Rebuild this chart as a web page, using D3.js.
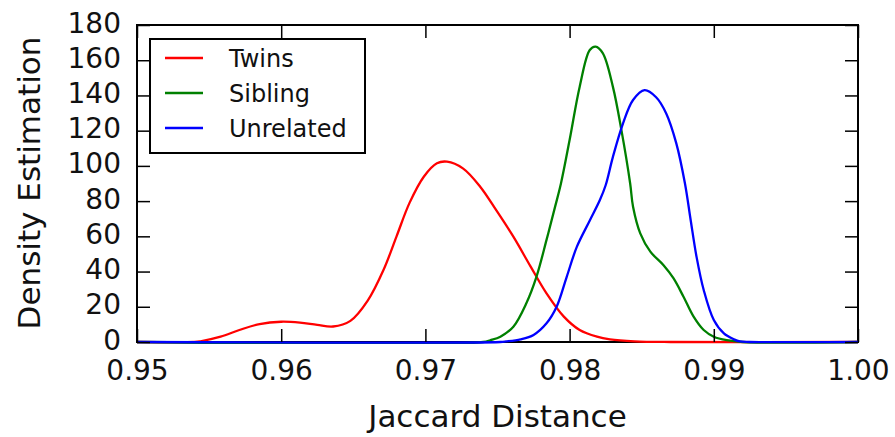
<!DOCTYPE html>
<html>
<head>
<meta charset="utf-8">
<script src="https://cdn.jsdelivr.net/npm/d3@7"></script>
<style>
  html, body { margin: 0; padding: 0; background: #fff; }
  svg { display: block; }
  text { font-family: "DejaVu Sans", sans-serif; fill: #111; }
</style>
</head>
<body>
<svg id="chart" width="895" height="437"></svg>
<script>
// ---- data ----
const seriesNames = ["Twins", "Sibling", "Unrelated"];
const seriesColors = ["#ff0000", "#008000", "#0000ff"];

const twinsX = [0.95, 0.9540, 0.9544, 0.9558, 0.9571, 0.9585, 0.9600, 0.9613, 0.9625, 0.9636, 0.9648, 0.9660, 0.9671, 0.9680, 0.9689, 0.9699, 0.9708, 0.9715, 0.9726, 0.9738, 0.9749, 0.9761, 0.9773, 0.9784, 0.9796, 0.9807, 0.9819, 0.9828, 0.9845, 0.9870, 1.00];
const twinsY = [0, 0, 0.4, 3, 6.8, 10.2, 11.5, 11, 9.7, 8.8, 12, 23.5, 41, 60, 79, 94, 101.5, 102.4, 98.6, 88.2, 75, 59.8, 42.8, 27.6, 14.4, 6.8, 3, 1.5, 0.4, 0, 0];

const siblingX = [0.95, 0.9740, 0.9745, 0.9752, 0.9761, 0.9770, 0.9777, 0.9784, 0.9790, 0.9794, 0.9800, 0.9807, 0.9814, 0.9818, 0.9823, 0.9830, 0.9836, 0.9842, 0.9844, 0.9849, 0.9856, 0.9865, 0.9872, 0.9879, 0.9886, 0.9893, 0.9900, 0.9909, 0.9920, 1.00];
const siblingY = [0, 0, 1.0, 3, 8.7, 22, 37, 58, 77, 90, 114.7, 145, 165.8, 167.7, 164, 145, 120, 90, 76.8, 61.7, 51.3, 43.7, 36.2, 25.7, 14.4, 6.8, 3, 1, 0, 0];

const unrelatedX = [0.95, 0.9752, 0.9756, 0.9766, 0.9775, 0.9784, 0.9791, 0.9798, 0.9805, 0.9814, 0.9821, 0.9825, 0.9830, 0.9837, 0.9844, 0.9852, 0.9860, 0.9867, 0.9874, 0.9880, 0.9884, 0.9888, 0.9893, 0.9900, 0.9907, 0.9914, 0.9918, 0.9925, 1.00];
const unrelatedY = [0, 0, 0.3, 1.5, 4, 10.6, 20, 37, 54, 69, 80.6, 89, 105, 124, 137.4, 143, 139, 129.8, 112.8, 90, 69, 48.5, 29.5, 12.5, 4.9, 1.5, 0.3, 0, 0];

const xTicks = [0.95, 0.96, 0.97, 0.98, 0.99, 1.00];
const yTicks = [0, 20, 40, 60, 80, 100, 120, 140, 160, 180];
const xLabel = "Jaccard Distance";
const yLabel = "Density Estimation";

// ---- layout ----
const mLeft = 137, mRight = 858, mTop = 25, mBottom = 342;
const svg = d3.select("#chart");

const x = d3.scaleLinear().domain([0.95, 1.00]).range([mLeft, mRight]);
const y = d3.scaleLinear().domain([0, 180]).range([mBottom, mTop]);

const series = [
  { name: seriesNames[0], color: seriesColors[0], xs: twinsX, ys: twinsY },
  { name: seriesNames[1], color: seriesColors[1], xs: siblingX, ys: siblingY },
  { name: seriesNames[2], color: seriesColors[2], xs: unrelatedX, ys: unrelatedY }
];

svg.append("defs").append("clipPath").attr("id", "clip")
  .append("rect").attr("x", mLeft).attr("y", mTop - 2).attr("width", mRight - mLeft).attr("height", mBottom - mTop + 4);

const line = d3.line()
  .x(d => x(d[0])).y(d => Math.min(y(d[1]), mBottom))
  .curve(d3.curveCatmullRom.alpha(0.5));

const gLines = svg.append("g").attr("clip-path", "url(#clip)");
series.forEach(s => {
  const pts = s.xs.map((v, i) => [v, s.ys[i]]);
  gLines.append("path")
    .attr("d", line(pts))
    .attr("fill", "none")
    .attr("stroke", s.color)
    .attr("stroke-width", 2.3)
    .attr("stroke-linejoin", "round");
});

const tickLen = 13;
const fmtX = d3.format(".2f");
const axB = d3.axisBottom(x).tickValues(xTicks).tickSizeInner(-tickLen).tickSizeOuter(0).tickFormat(fmtX);
const axT = d3.axisTop(x).tickValues(xTicks).tickSizeInner(-tickLen).tickSizeOuter(0).tickFormat("");
const axL = d3.axisLeft(y).tickValues(yTicks).tickSizeInner(-tickLen).tickSizeOuter(0).tickFormat(d3.format("d"));
const axR = d3.axisRight(y).tickValues(yTicks).tickSizeInner(-tickLen).tickSizeOuter(0).tickFormat("");

function styleAxis(g) {
  g.select(".domain").remove();
  g.selectAll(".tick line").attr("stroke", "#000").attr("stroke-width", 1.5);
  g.selectAll(".tick text").attr("fill", "#111").style("font-family", "DejaVu Sans, sans-serif").style("font-size", "28px");
}

// frame (below data so the zero-level lines show on the bottom edge)
svg.insert("rect", "g")
  .attr("x", mLeft).attr("y", mTop).attr("width", mRight - mLeft).attr("height", mBottom - mTop)
  .attr("fill", "none").attr("stroke", "#000").attr("stroke-width", 2);

const gB = svg.append("g").attr("transform", `translate(0,${mBottom})`).call(axB).call(styleAxis);
gB.selectAll(".tick text").attr("dy", null).attr("y", 38);
svg.append("g").attr("transform", `translate(0,${mTop})`).call(axT).call(styleAxis);
const gL = svg.append("g").attr("transform", `translate(${mLeft},0)`).call(axL).call(styleAxis);
gL.selectAll(".tick text").attr("dy", null).attr("x", -16).attr("y", 7);
svg.append("g").attr("transform", `translate(${mRight},0)`).call(axR).call(styleAxis);

svg.append("text")
  .attr("x", (mLeft + mRight) / 2).attr("y", 427)
  .attr("text-anchor", "middle").style("font-size", "31px")
  .text(xLabel);
svg.append("text")
  .attr("transform", `translate(40,183) rotate(-90)`)
  .attr("text-anchor", "middle").style("font-size", "31px")
  .text(yLabel);

const lg = svg.append("g");
lg.append("rect").attr("x", 150).attr("y", 39).attr("width", 215).attr("height", 114)
  .attr("fill", "#fff").attr("stroke", "#000").attr("stroke-width", 2);
const rowY = [58, 93, 128];
series.forEach((s, i) => {
  lg.append("line").attr("x1", 165).attr("x2", 203).attr("y1", rowY[i]).attr("y2", rowY[i])
    .attr("stroke", s.color).attr("stroke-width", 2.3);
  lg.append("text").attr("x", 229).attr("y", rowY[i] + 8.5)
    .style("font-size", "24px").text(s.name);
});
</script>
</body>
</html>
